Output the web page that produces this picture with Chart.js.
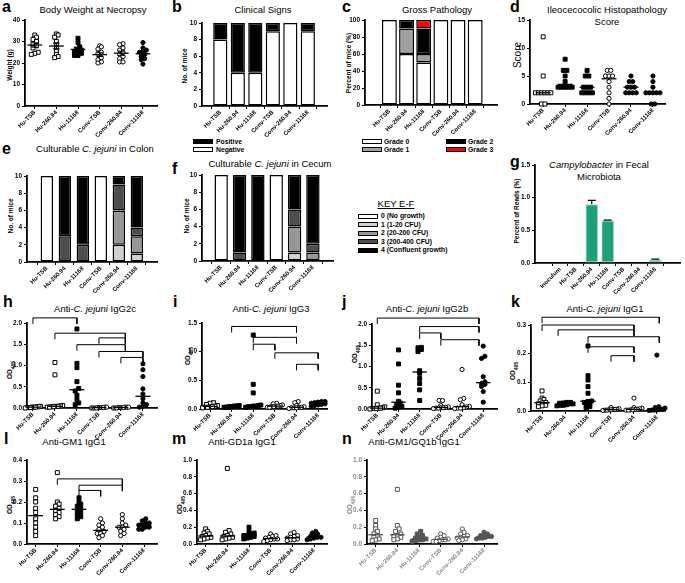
<!DOCTYPE html>
<html>
<head>
<meta charset="utf-8">
<script src="https://cdn.jsdelivr.net/npm/chart.js@4.4.1/dist/chart.umd.min.js"></script>
<style>
  html, body { margin: 0; padding: 0; background: #fff; }
  body { position: relative; width: 685px; height: 583px; overflow: hidden; font-family: "Liberation Sans", Arial, sans-serif; color: #000; }
  canvas { position: absolute; }
  .lt { position: absolute; font-size: 16px; line-height: 16px; font-weight: bold; }
  .ttl { position: absolute; font-size: 9.5px; line-height: 12px; text-align: center; white-space: nowrap; transform: translateX(-50%); }
  .yl { position: absolute; font-size: 6.5px; font-weight: bold; white-space: nowrap; transform: translate(-50%, -50%) rotate(-90deg); }
  .yl sub { font-size: 5px; }
  .lg { position: absolute; font-size: 6.8px; font-weight: bold; line-height: 8px; white-space: nowrap; }
  .sw { position: absolute; box-sizing: border-box; border: 1px solid #000; width: 20px; height: 5px; }
</style>
</head>
<body>
<!-- panel letters -->
<div class="lt" style="left:2px;top:-1px">a</div>
<div class="lt" style="left:172px;top:-1px">b</div>
<div class="lt" style="left:342px;top:-1px">c</div>
<div class="lt" style="left:510px;top:-1px">d</div>
<div class="lt" style="left:2px;top:141px">e</div>
<div class="lt" style="left:172px;top:161px">f</div>
<div class="lt" style="left:510px;top:154px">g</div>
<div class="lt" style="left:3px;top:294px">h</div>
<div class="lt" style="left:173px;top:294px">i</div>
<div class="lt" style="left:342px;top:294px">j</div>
<div class="lt" style="left:511px;top:294px">k</div>
<div class="lt" style="left:4px;top:431px">l</div>
<div class="lt" style="left:172px;top:431px">m</div>
<div class="lt" style="left:342px;top:431px">n</div>

<!-- titles -->
<div class="ttl" style="left:93px;top:4px">Body Weight at Necropsy</div>
<div class="ttl" style="left:263px;top:4px">Clinical Signs</div>
<div class="ttl" style="left:437px;top:4px">Gross Pathology</div>
<div class="ttl" style="left:607px;top:4px">Ileocecocolic Histopathology<br>Score</div>
<div class="ttl" style="left:95px;top:143px">Culturable <i>C. jejuni</i> in Colon</div>
<div class="ttl" style="left:270px;top:158px">Culturable <i>C. jejuni</i> in Cecum</div>
<div class="ttl" style="left:599px;top:159px"><i>Campylobacter</i> in Fecal<br>Microbiota</div>
<div class="ttl" style="left:95px;top:303px">Anti-<i>C. jejuni</i> IgG2c</div>
<div class="ttl" style="left:271px;top:303px">Anti-<i>C. jejuni</i> IgG3</div>
<div class="ttl" style="left:427px;top:303px">Anti-<i>C. jejuni</i> IgG2b</div>
<div class="ttl" style="left:605px;top:303px">Anti-<i>C. jejuni</i> IgG1</div>
<div class="ttl" style="left:74px;top:436px">Anti-GM1 IgG1</div>
<div class="ttl" style="left:242px;top:436px">Anti-GD1a IgG1</div>
<div class="ttl" style="left:414px;top:436px">Anti-GM1/GQ1b IgG1</div>

<!-- y axis titles -->
<div class="yl" style="left:9px;top:65px">Weight (g)</div>
<div class="yl" style="left:184px;top:66px">No. of mice</div>
<div class="yl" style="left:348px;top:63px">Percent of mice (%)</div>
<div class="yl" style="left:517px;top:55px;font-size:10px;font-weight:normal">Score</div>
<div class="yl" style="left:10px;top:216px">No. of mice</div>
<div class="yl" style="left:186px;top:216px">No. of mice</div>
<div class="yl" style="left:516px;top:211px">Percent of Reads (%)</div>
<div class="yl" style="left:11px;top:370px">OD<sub>405</sub></div>
<div class="yl" style="left:189px;top:356px">OD<sub>405</sub></div>
<div class="yl" style="left:356px;top:354px">OD<sub>405</sub></div>
<div class="yl" style="left:514px;top:371px">OD<sub>405</sub></div>
<div class="yl" style="left:11px;top:505px">OD<sub>405</sub></div>
<div class="yl" style="left:181px;top:505px">OD<sub>405</sub></div>
<div class="yl" style="left:351px;top:505px;color:#888">OD<sub>405</sub></div>

<!-- legend b -->
<div class="sw" style="left:193px;top:139px;background:#000"></div>
<div class="lg" style="left:216px;top:137.5px">Positive</div>
<div class="sw" style="left:193px;top:147px;background:#fff"></div>
<div class="lg" style="left:216px;top:145.5px">Negative</div>
<!-- legend c -->
<div class="sw" style="left:362px;top:139px;background:#fff"></div>
<div class="lg" style="left:384px;top:137.5px">Grade 0</div>
<div class="sw" style="left:362px;top:147px;background:#a0a0a0"></div>
<div class="lg" style="left:384px;top:145.5px">Grade 1</div>
<div class="sw" style="left:446px;top:139px;background:#000"></div>
<div class="lg" style="left:468px;top:137.5px">Grade 2</div>
<div class="sw" style="left:446px;top:147px;background:#ff0000"></div>
<div class="lg" style="left:468px;top:145.5px">Grade 3</div>
<!-- key e-f -->
<div class="ttl" style="left:396px;top:198px;text-decoration:underline">KEY E-F</div>
<div id="key"></div>

<script>
// ---- data ----
const CATS = ['Hu-TSB', 'Hu-260.94', 'Hu-11168', 'Conv-TSB', 'Conv-260.94', 'Conv-11168'];
const G_CATS = ['Inoculum'].concat(CATS);

// a. body weight (g), one list per group
const WEIGHT = [
  [33, 32, 31, 30, 29, 28, 27, 25, 24.5, 24],
  [33.5, 33, 32, 30, 28.5, 27, 25.5, 24, 23, 22.5],
  [31.5, 29.5, 27.5, 26.5, 26, 25.5, 25, 24.5, 23.5, 23.5],
  [28, 27.5, 26.5, 25, 24.5, 23, 22.5, 21.5, 20.5, 20],
  [29, 28.5, 27, 26, 25, 24, 23, 22, 20.5, 20.5],
  [29.5, 27, 26, 25.5, 25, 24, 23, 22, 21.5, 19.5],
];
const TICKS_A = [0, 10, 20, 30, 40];

// b. clinical signs (no. of mice)
const CLIN_NEG = [8, 4, 4, 9, 10, 9];
const CLIN_POS = [2, 6, 6, 1, 0, 1];
const TICKS_B = [0, 2, 4, 6, 8, 10];

// c. gross pathology (% of mice)
const GRADE0 = [100, 60, 50, 100, 100, 100];
const GRADE1 = [0, 30, 10, 0, 0, 0];
const GRADE2 = [0, 10, 30, 0, 0, 0];
const GRADE3 = [0, 0, 10, 0, 0, 0];
const TICKS_C = [0, 20, 40, 60, 80, 100];

// d. histopathology score
const SCORE = [
  [12, 5, 2, 2, 2, 2, 2, 2, 0, 0],
  [8, 6, 6, 5, 4, 3, 3, 3, 3, 3],
  [6, 5, 5, 3, 3, 3, 2, 2, 2, 2],
  [6, 6, 5, 5, 5, 4, 3, 2, 1, 0],
  [5, 4, 4, 3, 3, 3, 2, 2, 2, 2],
  [5, 4, 3, 2, 2, 2, 2, 2, 0, 0],
];
const TICKS_D = [0, 5, 10, 15];

// e, f. culturable C. jejuni, mice per growth class 0..4
const CFU_KEY = ['0 (No growth)', '1 (1-20 CFU)', '2 (20-200 CFU)', '3 (200-400 CFU)', '4 (Confluent growth)'];
const COLON = [
  [10, 0, 0, 10, 0, 0],
  [0, 0, 0, 0, 2, 1],
  [0, 0, 0, 0, 4, 2],
  [0, 3, 2, 0, 3, 1],
  [0, 7, 8, 0, 1, 6],
];
const CECUM = [
  [10, 0, 0, 10, 0, 0],
  [0, 0, 0, 0, 1, 0],
  [0, 0, 0, 0, 3, 1],
  [0, 1, 0, 0, 2, 1],
  [0, 9, 10, 0, 4, 8],
];
const TICKS_EF = [0, 2, 4, 6, 8, 10];

// g. Campylobacter reads (%)
const READS = [0, 0, 0.9, 0.65, 0, 0, 0.05];
const READS_ERR = [0, 0, 0.06, 0.005, 0, 0, 0.01];
const TICKS_G = [0, 0.5, 1.0, 1.5];

// h-k. anti-C. jejuni antibodies (OD405)
const IGG2C = [
  [0.04, 0.03, 0.03, 0.02, 0.02, 0.02, 0.01, 0.01, 0.01, 0.0],
  [1.07, 0.78, 0.06, 0.05, 0.04, 0.04, 0.03, 0.03, 0.02, 0.02],
  [1.86, 1.05, 0.95, 0.62, 0.46, 0.4, 0.3, 0.2, 0.12, 0.08],
  [0.02, 0.02, 0.01, 0.01, 0.01, 0.01, 0.0, 0.0, 0.0, 0.0],
  [0.02, 0.02, 0.02, 0.01, 0.01, 0.01, 0.01, 0.0, 0.0, 0.0],
  [1.04, 0.9, 0.74, 0.45, 0.33, 0.22, 0.12, 0.08, 0.04, 0.02],
];
const TICKS_H = [0, 0.5, 1.0, 1.5, 2.0];
const BRACKETS_H = [[0, 2, 2.12], [1, 4.2, 1.76], [3, 4.2, 1.65], [2, 4.2, 1.49], [3, 5, 1.33], [4, 5, 1.19]];

const IGG3 = [
  [0.11, 0.1, 0.08, 0.06, 0.05, 0.04, 0.04, 0.03, 0.03, 0.02],
  [0.06, 0.05, 0.05, 0.05, 0.04, 0.04, 0.04, 0.03, 0.03, 0.03],
  [1.29, 0.43, 0.28, 0.07, 0.06, 0.05, 0.05, 0.04, 0.04, 0.03],
  [0.1, 0.09, 0.07, 0.06, 0.05, 0.05, 0.04, 0.04, 0.03, 0.03],
  [0.13, 0.11, 0.06, 0.04, 0.03, 0.03, 0.02, 0.02, 0.02, 0.01],
  [0.13, 0.13, 0.12, 0.11, 0.1, 0.09, 0.08, 0.07, 0.06, 0.05],
];
const TICKS_I = [0, 0.5, 1.0, 1.5];
const BRACKETS_I = [[1, 4, 1.44], [2, 4, 1.25], [2, 3, 1.13], [3, 5, 0.98], [4, 5, 0.78]];

const IGG2B = [
  [0.42, 0.1, 0.05, 0.03, 0.02, 0.02, 0.01, 0.01, 0.01, 0.0],
  [1.39, 1.06, 0.56, 0.38, 0.18, 0.14, 0.1, 0.06, 0.04, 0.02],
  [1.45, 1.44, 1.4, 1.35, 0.9, 0.84, 0.72, 0.6, 0.45, 0.2],
  [0.2, 0.2, 0.08, 0.05, 0.04, 0.03, 0.03, 0.02, 0.02, 0.01],
  [0.93, 0.25, 0.22, 0.1, 0.06, 0.05, 0.03, 0.02, 0.02, 0.01],
  [1.48, 1.24, 1.19, 0.76, 0.64, 0.6, 0.58, 0.53, 0.41, 0.16],
];
const TICKS_J = [0, 0.5, 1.0, 1.5, 2.0];
const BRACKETS_J = [[0, 4.8, 2.14], [2, 4.8, 1.94], [2, 3, 1.79], [3, 4.8, 1.63]];

const IGG1 = [
  [0.07, 0.045, 0.04, 0.035, 0.03, 0.028, 0.025, 0.02, 0.018, 0.015],
  [0.03, 0.03, 0.028, 0.027, 0.025, 0.025, 0.022, 0.02, 0.02, 0.018],
  [0.227, 0.123, 0.108, 0.085, 0.062, 0.035, 0.033, 0.03, 0.025, 0.02, 0.015, 0.01],
  [0.012, 0.008, 0.006, 0.005, 0.005, 0.004, 0.004, 0.003, 0.003, 0.002],
  [0.045, 0.012, 0.01, 0.008, 0.006, 0.005, 0.004, 0.004, 0.003, 0.003],
  [0.195, 0.015, 0.012, 0.01, 0.006, 0.005, 0.004, 0.003, 0.003, 0.002],
];
const TICKS_K = [0, 0.1, 0.2, 0.3];
const BRACKETS_K = [[0, 5.1, 0.327], [0, 4, 0.3], [0.7, 4, 0.283], [2, 5.1, 0.259], [2, 4, 0.224], [3, 4, 0.193]];

// l-n. anti-ganglioside IgG1 (OD405)
const GM1 = [
  [0.26, 0.22, 0.2, 0.17, 0.15, 0.12, 0.1, 0.08, 0.06, 0.04],
  [0.34, 0.2, 0.19, 0.18, 0.17, 0.16, 0.15, 0.14, 0.13, 0.12],
  [0.22, 0.2, 0.19, 0.18, 0.17, 0.16, 0.15, 0.14, 0.13, 0.12],
  [0.12, 0.1, 0.09, 0.08, 0.07, 0.06, 0.05, 0.05, 0.04, 0.03],
  [0.14, 0.12, 0.1, 0.09, 0.08, 0.08, 0.07, 0.06, 0.05, 0.04],
  [0.12, 0.11, 0.1, 0.1, 0.09, 0.09, 0.08, 0.08, 0.07, 0.07],
];
const TICKS_L = [0, 0.1, 0.2, 0.3, 0.4];
const BRACKETS_L = [[1, 4, 0.31], [2, 4, 0.28], [2, 3, 0.255]];

const GD1A = [
  [0.18, 0.15, 0.13, 0.12, 0.1, 0.09, 0.08, 0.07, 0.06, 0.05],
  [0.9, 0.16, 0.14, 0.12, 0.1, 0.09, 0.08, 0.07, 0.06, 0.05],
  [0.2, 0.15, 0.13, 0.12, 0.1, 0.1, 0.09, 0.08, 0.07, 0.06],
  [0.12, 0.1, 0.09, 0.08, 0.07, 0.06, 0.06, 0.05, 0.04, 0.03],
  [0.14, 0.12, 0.1, 0.09, 0.08, 0.07, 0.06, 0.05, 0.05, 0.04],
  [0.15, 0.13, 0.12, 0.1, 0.09, 0.08, 0.08, 0.07, 0.06, 0.05],
];
const TICKS_M = [0, 0.2, 0.4, 0.6, 0.8, 1.0];

const GQ1B = [
  [0.28, 0.22, 0.18, 0.15, 0.12, 0.1, 0.08, 0.06, 0.05, 0.04],
  [0.65, 0.22, 0.18, 0.15, 0.12, 0.1, 0.09, 0.08, 0.06, 0.05],
  [0.15, 0.12, 0.1, 0.08, 0.07, 0.06, 0.05, 0.05, 0.04, 0.03],
  [0.12, 0.1, 0.08, 0.07, 0.06, 0.05, 0.05, 0.04, 0.03, 0.03],
  [0.18, 0.14, 0.12, 0.1, 0.09, 0.08, 0.07, 0.06, 0.05, 0.04],
  [0.14, 0.12, 0.11, 0.1, 0.09, 0.09, 0.08, 0.07, 0.07, 0.06],
];
const TICKS_N = [0, 0.2, 0.4, 0.6, 0.8, 1.0];

// ---- styling ----
const INK = '#000';
const FONT = "'Liberation Sans', Arial, Helvetica, sans-serif";
const TICK_FONT = { family: FONT, size: 6.5, weight: 'bold' };
const XTICK_FONT = { family: FONT, size: 6, weight: 'bold' };
const CFU_COLORS = ['#ffffff', '#d0d0d0', '#969696', '#4d4d4d', '#000000'];
const OPEN_SQ = { shape: 'rect', r: 2.8, fill: false };
const FILL_SQ = { shape: 'rect', r: 2.8, fill: true };
const OPEN_CI = { shape: 'circle', r: 2.1, fill: false };
const FILL_CI = { shape: 'circle', r: 2.1, fill: true };
const MARKS = [OPEN_SQ, FILL_SQ, FILL_SQ, OPEN_CI, OPEN_CI, FILL_CI];

// room around the plot area inside each canvas
const PAD_L = 26, PAD_T = 16, PAD_R = 6, PAD_B = 46;

Chart.defaults.font.family = FONT;
Chart.defaults.color = INK;

function median(a) {
  const s = [...a].sort((x, y) => x - y), n = s.length;
  return n % 2 ? s[(n - 1) / 2] : (s[n / 2 - 1] + s[n / 2]) / 2;
}
function mean(a) { return a.reduce((s, v) => s + v, 0) / a.length; }
function sem(a) {
  const m = mean(a);
  return Math.sqrt(a.reduce((s, v) => s + (v - m) ** 2, 0) / (a.length - 1)) / Math.sqrt(a.length);
}

// spread points that sit at about the same height side by side,
// never wider than `maxW` category units
function swarm(vals, tol, step, maxW) {
  const order = vals.map((v, i) => i).sort((a, b) => vals[a] - vals[b]);
  const off = vals.map(() => 0);
  let row = [];
  const flush = () => {
    const st = row.length > 1 ? Math.min(step, maxW / (row.length - 1)) : 0;
    row.forEach((k, j) => { off[k] = (j - (row.length - 1) / 2) * st; });
    row = [];
  };
  order.forEach(k => {
    if (row.length && vals[k] - vals[row[0]] > tol) flush();
    row.push(k);
  });
  flush();
  return off;
}

function place(g) {
  const c = document.createElement('canvas');
  const w = g.right - g.ax + PAD_L + PAD_R, h = g.bot - g.top + PAD_T + PAD_B;
  c.width = w; c.height = h;
  c.style.left = (g.ax - PAD_L) + 'px';
  c.style.top = (g.top - PAD_T) + 'px';
  c.style.width = w + 'px'; c.style.height = h + 'px';
  document.body.appendChild(c);
  return c;
}

function seg(pts, w, color) {
  return {
    type: 'line', data: pts.map(([x, y]) => ({ x, y })), borderColor: color || INK,
    borderWidth: w, pointRadius: 0, fill: false, clip: false, tension: 0,
  };
}

function axes(g, labels, ticks, digits, stacked, tickColor) {
  const grid = { display: true, drawOnChartArea: false, drawTicks: true, tickLength: 3, color: INK, lineWidth: 1 };
  const border = { display: true, color: INK, width: 1.8 };
  return {
    x: {
      type: 'linear', min: g.xmin, max: g.xmax, stacked,
      afterBuildTicks: s => { s.ticks = labels.map((_, i) => ({ value: i })); },
      afterFit: s => { s.height = PAD_B; s.paddingLeft = 0; s.paddingRight = 0; },
      ticks: { autoSkip: false, maxRotation: 45, minRotation: 45, padding: 0, font: XTICK_FONT, color: tickColor,
        callback: v => labels[Math.round(v)] },
      grid, border,
    },
    y: {
      min: ticks[0], max: ticks[ticks.length - 1], stacked,
      afterBuildTicks: s => { s.ticks = ticks.map(v => ({ value: v })); },
      afterFit: s => { s.width = PAD_L; s.paddingTop = 0; s.paddingBottom = 0; },
      ticks: { padding: 2, font: TICK_FONT, color: tickColor, callback: v => v.toFixed(digits) },
      grid, border,
    },
  };
}

function options(g, labels, ticks, digits, stacked, tickColor) {
  return {
    responsive: false, animation: false, devicePixelRatio: 1, events: [],
    layout: { padding: { top: PAD_T, right: PAD_R, left: 0, bottom: 0 } },
    plugins: { legend: { display: false }, tooltip: { enabled: false } },
    scales: axes(g, labels, ticks, digits, stacked, tickColor || INK),
  };
}

function dotPanel(g, ticks, groups, o) {
  o = Object.assign({ marks: MARKS, center: 'median', brackets: [], digits: 1, ink: INK }, o);
  const span = ticks[ticks.length - 1] - ticks[0];
  const datasets = [];
  groups.forEach((vals, i) => {
    const off = swarm(vals, span * 0.03, 0.16, 0.7);
    const m = o.marks[i];
    const c = o.center === 'mean' ? mean(vals) : median(vals);
    datasets.push(seg([[i - 0.34, c], [i + 0.34, c]], 1.3, o.ink));
    if (o.center === 'mean') {
      const e = sem(vals);
      datasets.push(seg([[i - 0.15, c + e], [i + 0.15, c + e]], 1, o.ink));
      datasets.push(seg([[i, c + e], [i, c - e]], 1, o.ink));
      datasets.push(seg([[i - 0.15, c - e], [i + 0.15, c - e]], 1, o.ink));
    }
    datasets.push({
      type: 'line', showLine: false, clip: false,
      data: vals.map((v, k) => ({ x: i + off[k], y: v })),
      pointStyle: m.shape, pointRadius: m.r, pointBorderWidth: 1,
      pointBackgroundColor: m.fill ? o.ink : '#fff', pointBorderColor: o.ink,
    });
  });
  o.brackets.forEach(([a, b, h]) => {
    const leg = span * 0.07;
    datasets.push(seg([[a, h - leg], [a, h], [b, h], [b, h - leg]], 1, INK));
  });
  new Chart(place(g), { type: 'line', data: { datasets }, options: options(g, CATS, ticks, o.digits, false, o.tickColor) });
}

function barPanel(g, ticks, layers, colors, bar) {
  const datasets = layers.map((vals, k) => ({
    type: 'bar', data: vals.map((v, i) => ({ x: i, y: v || null })),
    backgroundColor: colors[k], borderColor: INK, borderWidth: 1.5, borderSkipped: false,
    barPercentage: bar, categoryPercentage: 1,
  }));
  new Chart(place(g), { type: 'bar', data: { datasets }, options: options(g, CATS, ticks, 0, true) });
}

// ---- top row ----
dotPanel({ ax: 25, top: 20, bot: 106, right: 157, xmin: -0.45, xmax: 5.65 }, TICKS_A, WEIGHT,
  { marks: [OPEN_SQ, OPEN_SQ, FILL_SQ, OPEN_CI, OPEN_CI, FILL_CI], center: 'mean', digits: 0 });
barPanel({ ax: 202, top: 23, bot: 106, right: 327, xmin: -0.45, xmax: 5.5 }, TICKS_B,
  [CLIN_NEG, CLIN_POS], ['#fff', '#000'], 0.81);
barPanel({ ax: 365, top: 20, bot: 105, right: 497, xmin: -0.78, xmax: 5.63 }, TICKS_C,
  [GRADE0, GRADE1, GRADE2, GRADE3], ['#fff', '#a0a0a0', '#000', '#ff0000'], 0.87);
dotPanel({ ax: 530, top: 20, bot: 104, right: 665, xmin: -0.6, xmax: 5.55 }, TICKS_D, SCORE,
  { marks: [OPEN_SQ, FILL_SQ, FILL_SQ, OPEN_CI, FILL_CI, FILL_CI], digits: 0 });

// ---- second row ----
barPanel({ ax: 27, top: 176, bot: 262, right: 157, xmin: -0.5, xmax: 5.52 }, TICKS_EF, COLON, CFU_COLORS, 0.69);
barPanel({ ax: 202, top: 175, bot: 261, right: 333, xmin: -0.45, xmax: 5.5 }, TICKS_EF, CECUM, CFU_COLORS, 0.73);

(function readsPanel() {
  const g = { ax: 535, top: 165, bot: 263, right: 680, xmin: -0.92, xmax: 6.9 };
  const errorBars = {
    id: 'errorBars',
    afterDatasetsDraw(chart) {
      const { ctx, scales: { x, y } } = chart;
      ctx.save();
      ctx.strokeStyle = INK; ctx.lineWidth = 1.2;
      READS.forEach((v, i) => {
        if (!READS_ERR[i]) return;
        const px = x.getPixelForValue(i), base = y.getPixelForValue(v), top = y.getPixelForValue(v + READS_ERR[i]);
        ctx.beginPath();
        ctx.moveTo(px, base); ctx.lineTo(px, top);
        ctx.moveTo(px - 4, top); ctx.lineTo(px + 4, top);
        ctx.stroke();
      });
      ctx.restore();
    },
  };
  const opts = options(g, G_CATS, TICKS_G, 1, false);
  new Chart(place(g), {
    type: 'bar',
    data: { datasets: [{ data: READS.map((v, i) => ({ x: i, y: v || null })), backgroundColor: '#20a07a',
      borderColor: '#9fdcc4', borderWidth: 1, borderSkipped: false, barPercentage: 0.8, categoryPercentage: 1 }] },
    options: opts, plugins: [errorBars],
  });
})();

// key for e-f
(function key() {
  const box = document.getElementById('key');
  CFU_KEY.forEach((t, i) => {
    const y = 213.5 + i * 8.6;
    box.insertAdjacentHTML('beforeend',
      `<div class="sw" style="left:358px;top:${y}px;background:${CFU_COLORS[i]}"></div>` +
      `<div class="lg" style="left:381px;top:${y - 1.5}px">${t}</div>`);
  });
})();

// ---- third row ----
dotPanel({ ax: 27, top: 323, bot: 408, right: 157, xmin: -0.27, xmax: 5.64 }, TICKS_H, IGG2C,
  { marks: [OPEN_SQ, OPEN_SQ, FILL_SQ, OPEN_CI, OPEN_CI, FILL_CI], brackets: BRACKETS_H });
dotPanel({ ax: 202, top: 323, bot: 409, right: 327, xmin: -0.37, xmax: 5.41 }, TICKS_I, IGG3, { brackets: BRACKETS_I });
dotPanel({ ax: 372, top: 324, bot: 409, right: 497, xmin: -0.25, xmax: 5.65 }, TICKS_J, IGG2B, { brackets: BRACKETS_J });
dotPanel({ ax: 531, top: 325, bot: 411, right: 665, xmin: -0.48, xmax: 5.35 }, TICKS_K, IGG1, { brackets: BRACKETS_K });

// ---- bottom row ----
dotPanel({ ax: 27, top: 460, bot: 544, right: 157, xmin: -0.4, xmax: 5.6 }, TICKS_L, GM1,
  { marks: [OPEN_SQ, OPEN_SQ, FILL_SQ, OPEN_CI, OPEN_CI, FILL_CI], brackets: BRACKETS_L });
dotPanel({ ax: 197, top: 460, bot: 544, right: 327, xmin: -0.4, xmax: 5.6 }, TICKS_M, GD1A,
  { marks: [OPEN_SQ, OPEN_SQ, FILL_SQ, OPEN_CI, OPEN_CI, FILL_CI] });
dotPanel({ ax: 367, top: 460, bot: 544, right: 497, xmin: -0.4, xmax: 5.6 }, TICKS_N, GQ1B,
  { marks: [OPEN_SQ, OPEN_SQ, FILL_SQ, OPEN_CI, OPEN_CI, FILL_CI], ink: '#555', tickColor: '#888' });
</script>
</body>
</html>
